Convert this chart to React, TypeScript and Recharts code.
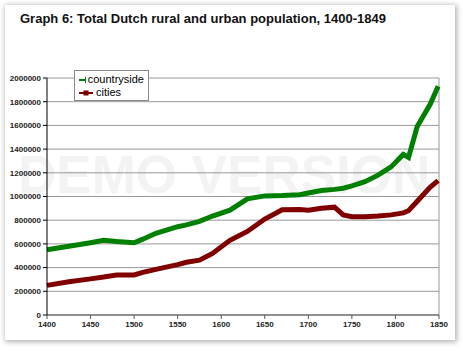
import React from 'react'
import {
  LineChart,
  Line,
  XAxis,
  YAxis,
  CartesianGrid,
  Legend,
  ReferenceLine,
} from 'recharts'

const years = [
  1400, 1425, 1450, 1465, 1480, 1500, 1510, 1525, 1550, 1560, 1575, 1590, 1610, 1630, 1650,
  1670, 1690, 1700, 1715, 1730, 1740, 1750, 1765, 1780, 1795, 1809, 1815, 1825, 1840, 1849,
]

const countryside = [
  550000, 580000, 610000, 630000, 620000, 610000, 640000, 690000, 745000, 760000, 790000,
  835000, 885000, 980000, 1005000, 1008000, 1015000, 1030000, 1050000, 1060000, 1070000,
  1090000, 1125000, 1180000, 1250000, 1355000, 1330000, 1590000, 1780000, 1930000,
]

const cities = [
  250000, 280000, 305000, 320000, 338000, 338000, 360000, 385000, 425000, 445000, 463000,
  520000, 630000, 705000, 810000, 888000, 890000, 885000, 900000, 910000, 845000, 830000,
  830000, 836000, 845000, 862000, 880000, 960000, 1080000, 1134000,
]

const xTicks = [1400, 1450, 1500, 1550, 1600, 1650, 1700, 1750, 1800, 1850]
const yTicks = [0, 200000, 400000, 600000, 800000, 1000000, 1200000, 1400000, 1600000, 1800000, 2000000]

const data = years.map((year, i) => ({
  year,
  countryside: countryside[i],
  cities: cities[i],
}))

const FONT = '"Liberation Sans", Arial, sans-serif'
const GREEN = '#008000'
const RED = '#800000'

// legend box drawn like the Excel one: small line + marker, label
const LegendBox = () => (
  <div
    style={{
      border: '1px solid #888',
      background: '#fff',
      padding: '2px 4px 1px 3px',
      fontFamily: FONT,
      fontSize: 11,
      lineHeight: '13px',
      color: '#000',
      width: 66,
    }}
  >
    <div style={{ display: 'flex', alignItems: 'center' }}>
      <svg width={16} height={10} style={{ marginRight: 2 }}>
        <line x1={1} y1={5} x2={15} y2={5} stroke={GREEN} strokeWidth={2} />
        <path d="M8 2 V8 M5 5 H11" stroke={GREEN} strokeWidth={2} />
      </svg>
      countryside
    </div>
    <div style={{ display: 'flex', alignItems: 'center' }}>
      <svg width={16} height={10} style={{ marginRight: 2 }}>
        <line x1={1} y1={5} x2={15} y2={5} stroke={RED} strokeWidth={2} />
        <rect x={5.5} y={2.5} width={5} height={5} fill={RED} />
      </svg>
      cities
    </div>
  </div>
)

export default function App() {
  return (
    <div style={{ position: 'absolute', left: 0, top: 0, width: 463, height: 351, background: '#fff' }}>
      <div
        style={{
          position: 'absolute',
          left: 5,
          top: 5,
          width: 450,
          height: 335,
          background: '#fff',
          boxShadow: '1px 1px 5px 1px rgba(0,0,0,0.3)',
        }}
      />
      <div
        style={{
          position: 'absolute',
          left: 18,
          top: 150,
          fontFamily: FONT,
          fontWeight: 'bold',
          fontSize: 53,
          color: '#f3f3f3',
          whiteSpace: 'nowrap',
          lineHeight: '50px',
        }}
      >
        DEMO VERSION
      </div>
      <div
        style={{
          position: 'absolute',
          left: 20,
          top: 11,
          fontFamily: FONT,
          fontWeight: 'bold',
          fontSize: 13,
          color: '#111',
          whiteSpace: 'nowrap',
        }}
      >
        Graph 6: Total Dutch rural and urban population, 1400-1849
      </div>
      <div style={{ position: 'absolute', left: 0, top: 0 }}>
        <LineChart width={463} height={351} data={data} margin={{ top: 47, right: 24, left: 0, bottom: 16 }}>
          <CartesianGrid vertical={false} stroke="#999" strokeWidth={1} />
          <ReferenceLine x={1850} stroke="#999" />
          <XAxis
            dataKey="year"
            type="number"
            domain={[1400, 1850]}
            ticks={xTicks}
            interval={0}
            height={20}
            stroke="#555"
            tickSize={4}
            tick={{ fontSize: 8, fontWeight: 'bold', fill: '#222', fontFamily: FONT }}
          />
          <YAxis
            type="number"
            domain={[0, 2000000]}
            ticks={yTicks}
            interval={0}
            width={47}
            stroke="#000"
            tickSize={4}
            tickMargin={2}
            tick={{ fontSize: 8, fontWeight: 'bold', fill: '#222', fontFamily: FONT }}
          />
          <Legend
            verticalAlign="top"
            align="left"
            wrapperStyle={{ position: 'absolute', left: 74, top: 70, width: 'auto' }}
            content={() => <LegendBox />}
          />
          <Line
            dataKey="countryside"
            stroke={GREEN}
            strokeWidth={5}
            dot={false}
            isAnimationActive={false}
          />
          <Line dataKey="cities" stroke={RED} strokeWidth={5} dot={false} isAnimationActive={false} />
        </LineChart>
      </div>
    </div>
  )
}
